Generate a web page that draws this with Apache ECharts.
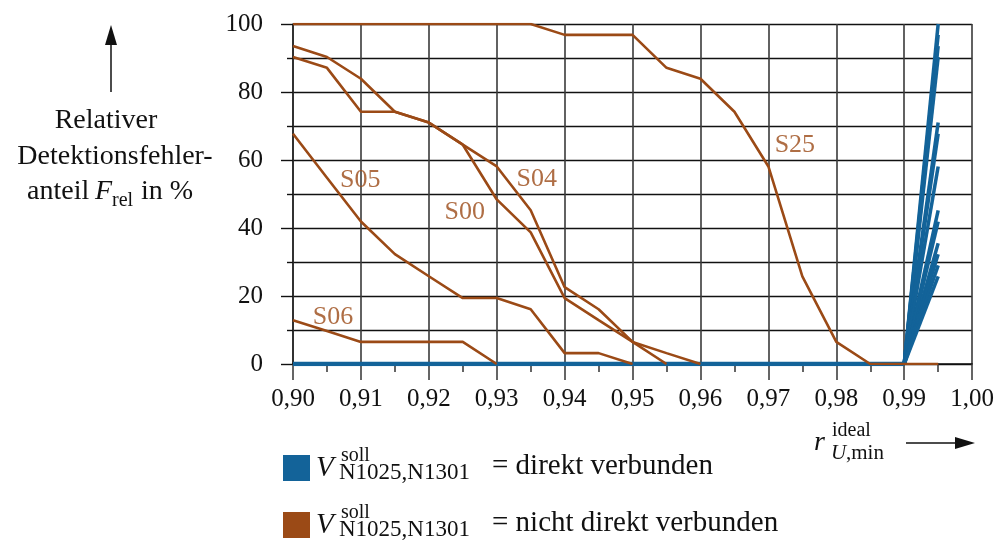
<!DOCTYPE html>
<html>
<head>
<meta charset="utf-8">
<script src="https://cdn.jsdelivr.net/npm/echarts@6/dist/echarts.min.js"></script>
<style>html,body{margin:0;padding:0;background:#fff}#c{width:997px;height:541px}</style>
</head>
<body>
<div id="c"></div>
<script>
// x positions (r_U,min ideal)
const xGrid = [0.900,0.905,0.910,0.915,0.920,0.925,0.930,0.935,0.940,0.945,0.950,0.955,0.960,0.965,0.970,0.975,0.980,0.985,0.990,0.995];
// brown series (nicht direkt verbunden), values in %
const S25 = [100,100,100,100,100,100,100,100,96.8,96.8,96.8,87.1,83.9,74.2,58.1,25.8,6.5,0,0,0];
const S04 = [93.5,90.3,83.9,74.2,71.0,64.5,58.1,45.2,22.6,16.1,6.5,0,null,null,null,null,null,null,null,null];
const S00 = [90.3,87.1,74.2,74.2,71.0,64.5,48.4,38.7,19.4,12.9,6.5,3.2,0,null,null,null,null,null,null,null];
const S05 = [67.7,54.8,41.9,32.3,25.8,19.4,19.4,16.1,3.2,3.2,0,null,null,null,null,null,null,null,null,null];
const S06 = [12.9,9.7,6.5,6.5,6.5,6.5,0,null,null,null,null,null,null,null,null,null,null,null,null,null];
// blue series (direkt verbunden): zero up to 0.99, then end values at 0.995
const blueBase = [0,0,0,0,0,0,0,0,0,0,0,0,0,0,0,0,0,0,0];
const blueFanX = [0.990, 0.995];
const blueEnd = [100,96.8,93.5,90.3,71.0,67.7,58.1,45.2,41.9,35.5,32.3,29.0,25.8];
// series label positions
const seriesLabels = [[0.9099,54.2,'S05'],[0.9253,44.6,'S00'],[0.9359,54.3,'S04'],[0.9739,64.4,'S25'],[0.9059,13.9,'S06']];
// axis ticks
const xMin = 0.90, xMax = 1.00, xStep = 0.01;
const yMin = 0, yMax = 100, yStep = 20;

const BLUE = '#136399', BROWN = '#9b4a16', FONT = '"Liberation Serif", serif';
const chart = echarts.init(document.getElementById('c'), null, {renderer:'canvas'});

function pairs(xs, ys){ const out=[]; for(let i=0;i<ys.length;i++){ if(ys[i]!==null) out.push([xs[i], ys[i]]); } return out; }
const series = [];
series.push({type:'line', data: pairs(xGrid, blueBase), showSymbol:false, lineStyle:{color:BLUE,width:4.5}, z:2, silent:true});
blueEnd.forEach(v=>{
  series.push({type:'line', data: pairs(blueFanX,[0,v]), showSymbol:false, lineStyle:{color:BLUE,width:3.5}, z:2, silent:true});
});
[S25,S04,S00,S05,S06].forEach(arr=>{
  series.push({type:'line', data: pairs(xGrid, arr), showSymbol:false, connectNulls:false, lineStyle:{color:BROWN,width:2.6}, z:3, silent:true});
});
series.push({type:'scatter', data: seriesLabels, symbolSize:0, silent:true, z:4,
  label:{show:true, position:'inside', formatter:p=>p.data[2], color:BROWN, fontSize:26, fontFamily:FONT}});

function T(str, x, base, size, opt){
  opt = opt||{};
  return {type:'text', x:x, y: base - 0.33*size, z:10, silent:true,
    style:{text:str, fill: opt.fill||'#111', font:(opt.italic?'italic ':'')+size+'px '+FONT,
      align: opt.align||'left', verticalAlign:'middle'}};
}
function arrowUp(cx, tipY, baseY){
  return [
    {type:'line', shape:{x1:cx,y1:baseY,x2:cx,y2:tipY+15}, style:{stroke:'#111',lineWidth:1.5}, silent:true},
    {type:'polygon', shape:{points:[[cx,tipY],[cx-6,tipY+20],[cx+6,tipY+20]]}, style:{fill:'#111'}, silent:true}
  ];
}
function arrowRight(x1, tipX, y){
  return [
    {type:'line', shape:{x1:x1,y1:y,x2:tipX-15,y2:y}, style:{stroke:'#111',lineWidth:1.5}, silent:true},
    {type:'polygon', shape:{points:[[tipX,y],[tipX-20,y-6],[tipX-20,y+6]]}, style:{fill:'#111'}, silent:true}
  ];
}
function legendItem(y0, color, txt){
  return [
    {type:'rect', shape:{x:283,y:y0,width:27,height:26}, style:{fill:color}, silent:true},
    T('V', 316, y0+23, 29, {italic:true}),
    T('soll', 341, y0+7, 20),
    T('N1025,N1301', 339, y0+26, 23),
    T(txt, 492, y0+21, 29)
  ];
}
const graphics = [].concat(
  arrowUp(111, 25, 92),
  [T('Relativer', 106, 130, 28, {align:'center'}),
   T('Detektionsfehler-', 115, 166, 28, {align:'center'}),
   T('anteil', 27, 201, 28),
   T('F', 95, 201, 28, {italic:true}),
   T('rel', 112, 207, 20),
   T('in %', 141, 201, 28)],
  [T('r', 814, 452, 28, {italic:true}),
   T('ideal', 832, 437, 20),
   T('U', 831, 460, 21, {italic:true}),
   T(',min', 846, 460, 21)],
  arrowRight(906, 975, 443),
  legendItem(455, BLUE, '= direkt verbunden'),
  legendItem(512, BROWN, '= nicht direkt verbunden')
);

chart.setOption({
  animation:false,
  backgroundColor:'#fff',
  grid:{left:293, right:24, top:24, bottom:177},
  xAxis:{type:'value', min:xMin, max:xMax, interval:xStep,
    axisLine:{show:true, onZero:false, lineStyle:{color:'#111',width:1.5}},
    axisTick:{show:true, length:16, lineStyle:{color:'#333',width:1.5}},
    minorTick:{show:true, splitNumber:2, length:8, lineStyle:{color:'#333',width:1.5}},
    splitLine:{show:true, lineStyle:{color:'#3a3a3a',width:1.6}},
    axisLabel:{margin:23, fontSize:25, fontFamily:FONT, color:'#111', formatter:v=>v.toFixed(2).replace('.',',')}
  },
  yAxis:{type:'value', min:yMin, max:yMax, interval:yStep,
    axisLine:{show:true, lineStyle:{color:'#222',width:1.5}},
    axisTick:{show:true, length:12, lineStyle:{color:'#111',width:1.4}},
    minorTick:{show:true, splitNumber:2, length:6, lineStyle:{color:'#111',width:1.4}},
    splitLine:{show:true, lineStyle:{color:'#111',width:1.4}},
    minorSplitLine:{show:true, lineStyle:{color:'#111',width:1.4}},
    axisLabel:{margin:30, fontSize:25, fontFamily:FONT, color:'#111'}
  },
  series: series,
  graphic: graphics
});
</script>
</body>
</html>
